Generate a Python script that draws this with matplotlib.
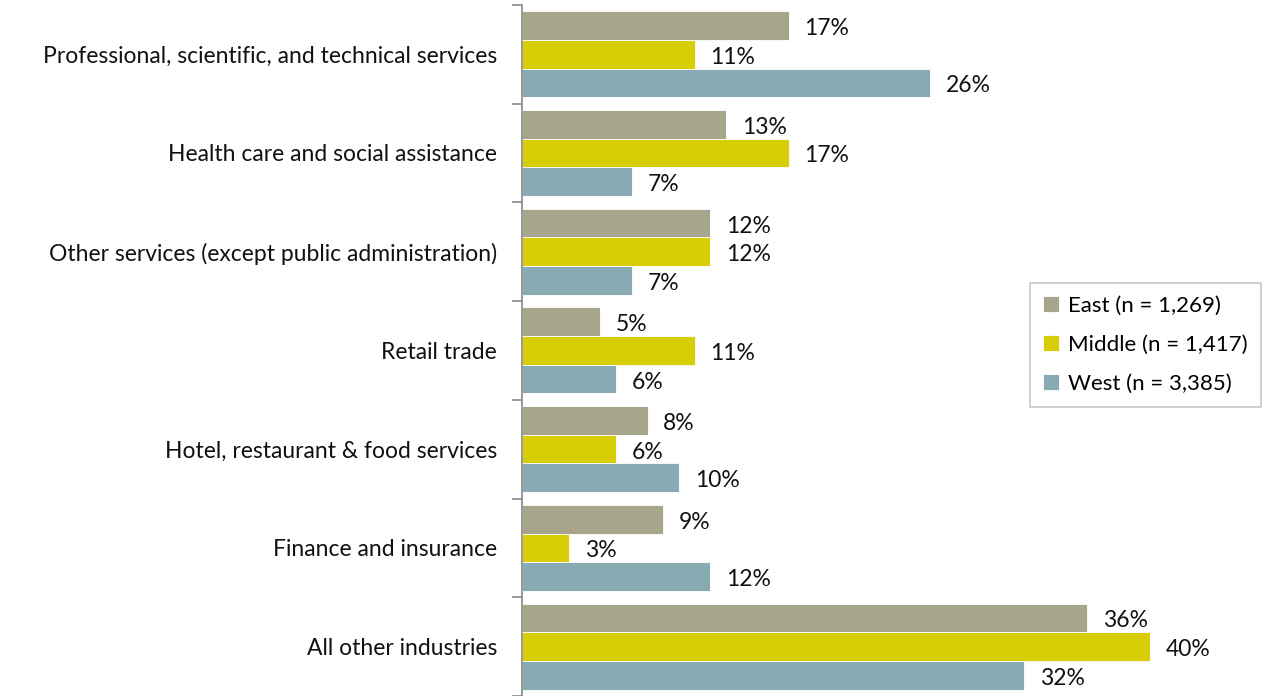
import matplotlib.pyplot as plt
import numpy as np

plt.rcParams['font.family'] = ['Lato', 'DejaVu Sans']

# industries, top to bottom
industries = ["Professional, scientific, and technical services",
              "Health care and social assistance",
              "Other services (except public administration)",
              "Retail trade",
              "Hotel, restaurant & food services",
              "Finance and insurance",
              "All other industries"]
east = [17, 13, 12, 5, 8, 9, 36]
middle = [11, 17, 12, 11, 6, 3, 40]
west = [26, 7, 7, 6, 10, 12, 32]

series = [("East (n = 1,269)", east, "#A8A58D"),
          ("Middle (n = 1,417)", middle, "#D9CD06"),
          ("West (n = 3,385)", west, "#88AAB3")]

fs = 16.5

fig = plt.figure(figsize=(12.73, 6.96), dpi=100)
ax = fig.add_axes([0.41, 0.0, 0.555, 0.993])

n = len(industries)
y = np.arange(n)
h = 0.29
for k, (name, vals, col) in enumerate(series):
    pos = y + (k - 1) * h
    bars = ax.barh(pos, vals, height=h, color=col, edgecolor="white",
                   linewidth=0.6, label=name)
    for b, v in zip(bars, vals):
        ax.text(v + 1.0, b.get_y() + b.get_height() / 2 + 0.03, f"{v}%",
                va="center", ha="left", fontsize=fs, color="#111111")

ax.set_xlim(0, 45)
ax.set_ylim(n - 0.5, -0.5)
ax.set_yticks(y)
ax.set_yticklabels(industries, fontsize=fs, color="#111111")
ax.set_yticks(np.arange(n + 1) - 0.5, minor=True)
ax.tick_params(axis="y", which="major", length=0, pad=18)
ax.tick_params(axis="y", which="minor", length=7, color="#888888", width=1.2)
ax.set_xticks([])
for s in ["top", "right", "bottom"]:
    ax.spines[s].set_visible(False)
ax.spines["left"].set_color("#888888")
ax.spines["left"].set_linewidth(1.2)

leg = ax.legend(loc="upper left", bbox_to_anchor=(0.719, 0.598), frameon=True,
                fancybox=False, edgecolor="#BBBBBB", fontsize=16,
                handlelength=0.7, handleheight=0.7, handletextpad=0.4,
                labelspacing=0.85, borderpad=0.6, borderaxespad=0)
leg.get_frame().set_linewidth(1.2)

fig.savefig("out.png", dpi=100)
